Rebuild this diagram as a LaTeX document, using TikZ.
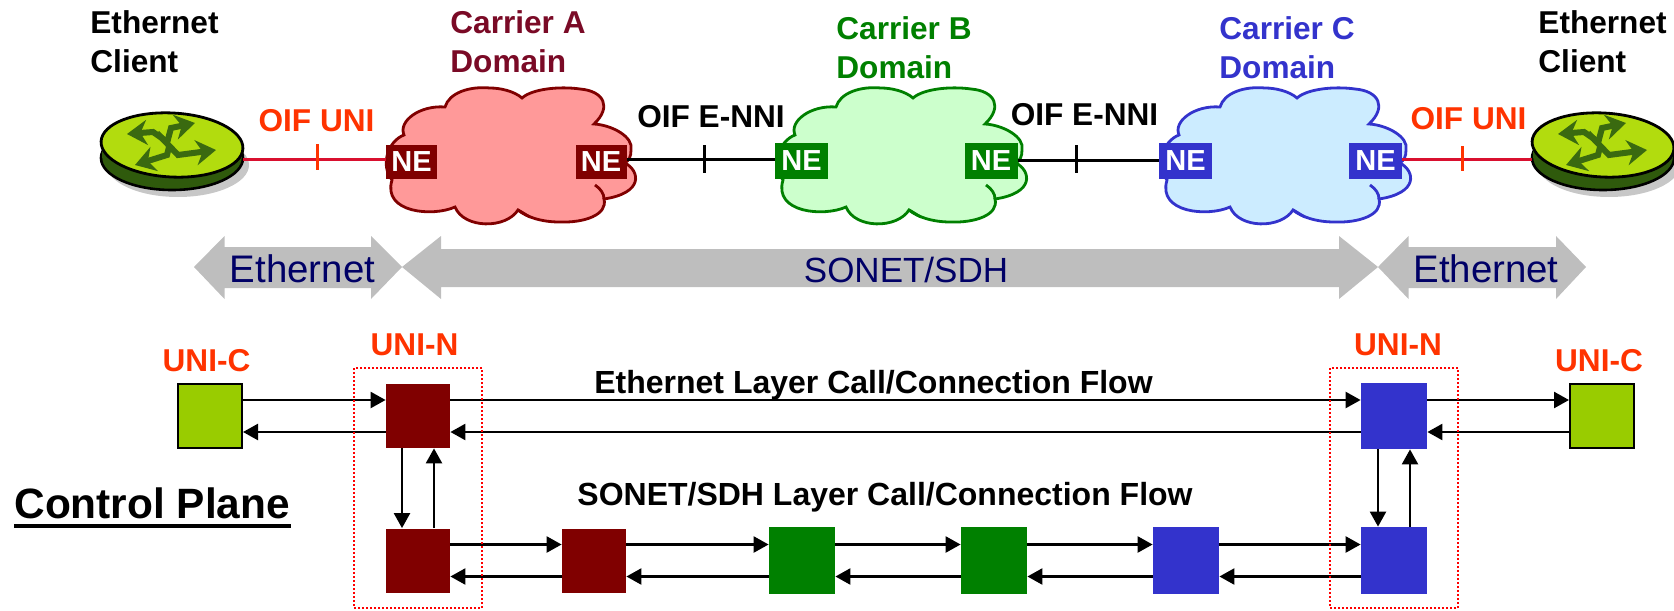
\documentclass[tikz,border=0pt]{standalone}
\usepackage{fontspec}
\setmainfont{Liberation Sans}
\usetikzlibrary{calc,arrows.meta}
\definecolor{carrierA}{HTML}{800000}
\definecolor{carrierAtext}{HTML}{7A0A26}
\definecolor{carrierB}{HTML}{008000}
\definecolor{carrierC}{HTML}{3333CC}
\definecolor{cloudA}{HTML}{FF9999}
\definecolor{cloudB}{HTML}{CCFFCC}
\definecolor{cloudC}{HTML}{CCECFF}
\definecolor{uniorange}{HTML}{FF3300}
\definecolor{unicrimson}{HTML}{D9102F}
\definecolor{clientgreen}{HTML}{99CC00}
\definecolor{layernavy}{HTML}{000066}
\definecolor{layergray}{HTML}{BEBEBE}
\definecolor{routerface}{HTML}{B2DC0E}
\definecolor{routerbody}{HTML}{2F5A0C}
\definecolor{routerglyph}{HTML}{3A6A10}
\tikzset{
  x=0.5pt, y=-0.5pt,
  label/.style={anchor=base west, inner sep=0pt, align=left, font=\bfseries\fontsize{15.8}{19.5}\selectfont},
  layertext/.style={inner sep=0pt, anchor=base, text=layernavy, font=\fontsize{#1}{20}\selectfont},
  flowtext/.style={inner sep=0pt, anchor=base, font=\bfseries\fontsize{16}{18}\selectfont},
  nebox/.style={fill=#1, text=white, inner sep=0pt, minimum width=26.5pt, minimum height=18pt, font=\bfseries\fontsize{14.5}{14}\selectfont},
  csquare/.style={fill=#1, inner sep=0pt, minimum width=32pt, minimum height=32pt},
  clientsquare/.style={draw=black, line width=1pt, fill=clientgreen, inner sep=0pt, minimum width=32pt, minimum height=32pt},
  unibox/.style={draw=red, line width=1.1pt, dash pattern=on 1pt off 1pt, inner sep=0pt, minimum width=64pt, minimum height=120pt},
  flow/.style={-{Triangle[length=7.5pt,width=8pt]}, line width=1.2pt},
  linkline/.style={line width=1.5pt},
  domaincloud/.pic={
    \path[pic actions, line width=1.4pt] (-108,-22) .. controls (-114,-36) and (-92,-52) .. (-67,-50)
      .. controls (-63,-64) and (-43,-71) .. (-22,-69) .. controls (-12,-69) and (2,-66) .. (10,-59)
      .. controls (20,-68) and (47,-71) .. (68,-68) .. controls (92,-66) and (100,-50) .. (82,-33)
      .. controls (100,-32) and (122,-20) .. (119,-7) .. controls (119,0) and (117,3) .. (113,6)
      .. controls (128,14) and (132,36) .. (92,42) .. controls (96,58) and (72,66) .. (47,65)
      .. controls (30,65) and (14,60) .. (6,53) .. controls (-6,72) and (-48,72) .. (-57,50)
      .. controls (-79,60) and (-130,56) .. (-120,23) .. controls (-132,8) and (-124,-16) .. (-108,-22) -- cycle;
    \path[pic actions, fill=none, line width=1.4pt] (83,28) .. controls (89,32) and (92,37) .. (92,42);
    \path[pic actions, fill=none, line width=1.4pt] (6,53) .. controls (10,55) and (14,58) .. (18,60);
  },
  netrouter/.pic={
    \fill[black!22] (6,20) ellipse [x radius=35.5pt, y radius=16pt];
    \draw[black, line width=1.3pt, fill=routerbody] (0,13) ellipse [x radius=35.5pt, y radius=16pt];
    \fill[routerbody] (-70,0) -- (70,0) -- (70,13) -- (-70,13) -- cycle;
    \draw[black, line width=1.4pt, fill=routerface] (0,0) ellipse [x radius=35.5pt, y radius=16pt, rotate=-3];
    \begin{scope}[routerglyph, line width=3pt, -{Stealth[length=10pt,width=12.5pt]}]
      \draw (-3,-2) -- (-19,-13) -- (-45,-11);
      \draw (-5,-2) -- (-1,-17) -- (23,-22);
      \draw (-15,-12) -- (6,10) -- (44,5);
      \draw (-3,2) -- (-5,10) -- (-37,20);
    \end{scope}
  }
}
\begin{document}
\begin{tikzpicture}
\useasboundingbox (0,0) rectangle (1674,610);

% clouds
\pic[draw=carrierA, fill=cloudA] at (512,157) {domaincloud};
\pic[draw=carrierB, fill=cloudB] at (903,157) {domaincloud};
\pic[draw=carrierC, fill=cloudC] at (1287,157) {domaincloud};

\pic at (172,145) {netrouter};
\pic at (1603,145) {netrouter};
\coordinate (clientL) at (243,159);
\coordinate (clientR) at (1532,159);

\node (neAl) [nebox=carrierA, minimum width=25.5pt, minimum height=17pt] at (411.5,161.5) {NE};
\node (neAr) [nebox=carrierA, minimum width=25.5pt, minimum height=17pt] at (601,161.5) {NE};
\node (neBl) [nebox=carrierB] at (801.5,161) {NE};
\node (neBr) [nebox=carrierB] at (991,161) {NE};
\node (neCl) [nebox=carrierC] at (1185.5,161) {NE};
\node (neCr) [nebox=carrierC] at (1375.5,161) {NE};

% links
\draw[linkline, unicrimson] (clientL) -- (neAl.west |- clientL);
\draw[linkline, black] (neAr.east |- 0,159) -- (neBl.west |- 0,159);
\draw[linkline, black] (neBr.east |- 0,160) -- (neCl.west |- 0,160);
\draw[linkline, unicrimson] (neCr.east |- clientR) -- (clientR);
\draw[linkline, uniorange] (317,144) -- (317,170);
\draw[linkline, black] (704,145) -- (704,173);
\draw[linkline, black] (1076,145) -- (1076,173);
\draw[linkline, uniorange] (1462,146) -- (1462,171);

% labels
\node (clientLt) [label] at (90,73) {Ethernet\\Client};
\node (clientRt) [label] at (1538,73) {Ethernet\\Client};
\node (domAt) [label, text=carrierAtext] at (450,73) {Carrier A\\Domain};
\node (domBt) [label, text=carrierB] at (836,79) {Carrier B\\Domain};
\node (domCt) [label, text=carrierC] at (1219,79) {Carrier C\\Domain};
\node (uniL) [label, text=uniorange, anchor=base] at (316.5,132) {OIF UNI};
\node (uniR) [label, text=uniorange, anchor=base] at (1468.5,129) {OIF UNI};
\node (nniL) [label, anchor=base] at (711,127) {OIF E-NNI};
\node (nniR) [label, anchor=base] at (1084.5,126) {OIF E-NNI};

% layer arrows
\fill[layergray] (194,267) -- (224.5,236) -- (224.5,247) -- (371,247) -- (371,236) -- (402,267) -- (371,299) -- (371,288) -- (224.5,288) -- (224.5,299) -- cycle;
\fill[layergray] (402,267) -- (441,236) -- (441,249) -- (1339,249) -- (1339,236) -- (1378,267) -- (1339,299) -- (1339,287) -- (441,287) -- (441,299) -- cycle;
\fill[layergray] (1378,267) -- (1408.5,236) -- (1408.5,247) -- (1556,247) -- (1556,236) -- (1586,267) -- (1556,299) -- (1556,288) -- (1408.5,288) -- (1408.5,299) -- cycle;
\node (layerL) [layertext=19.2] at (302.5,282) {Ethernet};
\node (layerM) [layertext=17.5] at (906,282) {SONET/SDH};
\node (layerR) [layertext=19.2] at (1486,282) {Ethernet};

% control plane
\node (ctrlC1) [clientsquare] at (210,416) {};
\node (ctrlA1) [csquare=carrierA] at (418,416) {};
\node (ctrlN1) [csquare=carrierC, minimum width=33pt, minimum height=33pt] at (1394,416) {};
\node (ctrlC2) [clientsquare] at (1602,416) {};
\node (ctrlA2) [csquare=carrierA] at (418,560.5) {};
\node (ctrlA3) [csquare=carrierA] at (594,560.5) {};
\node (ctrlB1) [csquare=carrierB, minimum width=33pt, minimum height=33.5pt] at (802,560.5) {};
\node (ctrlB2) [csquare=carrierB, minimum width=33pt, minimum height=33.5pt] at (994,560.5) {};
\node (ctrlC3) [csquare=carrierC, minimum width=33pt, minimum height=33.5pt] at (1186,560.5) {};
\node (ctrlN2) [csquare=carrierC, minimum width=33pt, minimum height=33.5pt] at (1394,560.5) {};

\foreach \a/\b in {ctrlC1/ctrlA1, ctrlA1/ctrlN1, ctrlN1/ctrlC2, ctrlA2/ctrlA3, ctrlA3/ctrlB1, ctrlB1/ctrlB2, ctrlB2/ctrlC3, ctrlC3/ctrlN2} {
  \draw[flow] ([yshift=8pt]\a.east) -- ([yshift=8pt]\b.west);
  \draw[flow] ([yshift=-8pt]\b.west) -- ([yshift=-8pt]\a.east);
}
\foreach \a/\b in {ctrlA1/ctrlA2, ctrlN1/ctrlN2} {
  \draw[flow] ([xshift=-8pt]\a.south) -- ([xshift=-8pt]\b.north);
  \draw[flow] ([xshift=8pt]\b.north) -- ([xshift=8pt]\a.south);
}
\node (boxL) [unibox] at (418,488) {};
\node (boxR) [unibox] at (1394,488) {};

\node (uniCl) [label, text=uniorange, anchor=base] at (206.5,371) {UNI-C};
\node (uniNl) [label, text=uniorange, anchor=base] at (414.5,355) {UNI-N};
\node (uniNr) [label, text=uniorange, anchor=base] at (1398,355) {UNI-N};
\node (uniCr) [label, text=uniorange, anchor=base] at (1599,371) {UNI-C};
\node (flowE) [flowtext] at (873.5,393) {Ethernet Layer Call/Connection Flow};
\node (flowS) [flowtext] at (885,505) {SONET/SDH Layer Call/Connection Flow};
\node (ctrlPlane) [label, font=\bfseries\fontsize{21.2}{24}\selectfont] at (14,518) {Control Plane};
\draw[line width=2.3pt] (ctrlPlane.base west) ++(0,8) -- ++(277,0);
\end{tikzpicture}
\end{document}
